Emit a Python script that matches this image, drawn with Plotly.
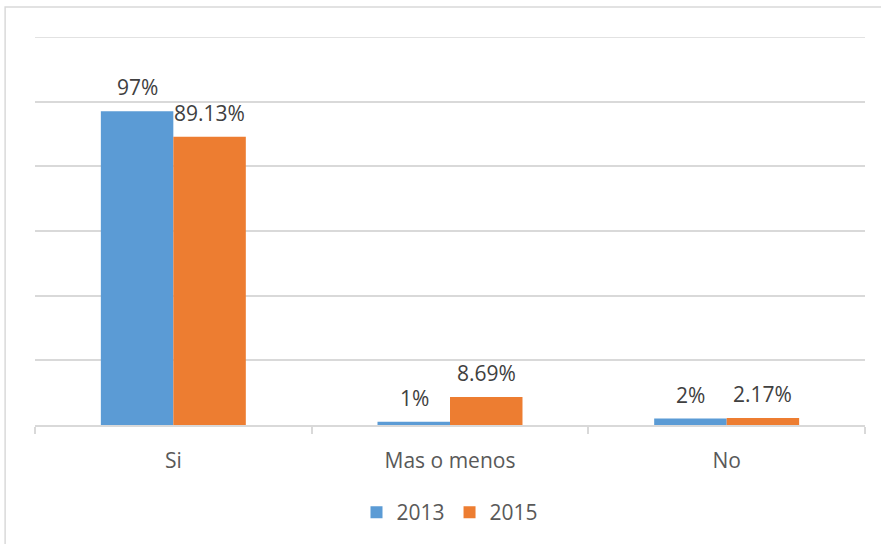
import plotly.graph_objects as go

categories = ["Si", "Mas o menos", "No"]
series_names = ["2013", "2015"]
values_2013 = [97, 1, 2]
values_2015 = [89.13, 8.69, 2.17]
labels_2013 = ["97%", "1%", "2%"]
labels_2015 = ["89.13%", "8.69%", "2.17%"]
colors = ["#5B9BD5", "#ED7D31"]

FONT = "'Open Sans', 'Liberation Sans', sans-serif"

fig = go.Figure()
for name, vals, col in zip(series_names, [values_2013, values_2015], colors):
    fig.add_trace(go.Bar(name=name, x=categories, y=vals, marker=dict(color=col, line=dict(width=0))))

annotations = []
for vals, labs, shift in [(values_2013, labels_2013, -36), (values_2015, labels_2015, 36)]:
    for c, v, t in zip(categories, vals, labs):
        annotations.append(dict(x=c, y=v, xref="x", yref="y", text=t, showarrow=False,
                                xshift=shift, yshift=24, yanchor="middle",
                                font=dict(family=FONT, size=21, color="#404040")))

fig.update_layout(
    width=881, height=544,
    margin=dict(l=35, r=16, t=37, b=118),
    paper_bgcolor="white", plot_bgcolor="white",
    barmode="group", bargap=0.476, bargroupgap=0,
    showlegend=True,
    legend=dict(orientation="h", x=0.5, xanchor="center", y=-0.17, yanchor="top",
                font=dict(family=FONT, size=21, color="#595959"),
                itemwidth=30, traceorder="normal"),
    annotations=annotations,
    xaxis=dict(showline=True, linecolor="#d9d9d9", linewidth=1.5,
               ticks="outside", tickson="boundaries", ticklen=7, tickcolor="#d9d9d9", tickwidth=1.5,
               ticklabelstandoff=16,
               tickfont=dict(family=FONT, size=21, color="#595959"), showgrid=False),
    yaxis=dict(range=[0, 120], tickvals=[20, 40, 60, 80, 100, 120], showticklabels=False, showgrid=True,
               gridcolor="#d9d9d9", gridwidth=1.5, zeroline=False, showline=False),
    shapes=[
        dict(type="rect", xref="paper", yref="paper", x0=-0.036, x1=1.2, y0=-0.6, y1=1.077,
             line=dict(color="#d9d9d9", width=1.5), fillcolor="rgba(0,0,0,0)", layer="below"),
        dict(type="line", xref="paper", yref="y", x0=0, x1=1, y0=120, y1=120,
             line=dict(color="#d9d9d9", width=1.5), layer="below"),
    ],
)

fig.write_html("out.html", config={"displayModeBar": False},
               post_script="document.body.style.margin='0';")
